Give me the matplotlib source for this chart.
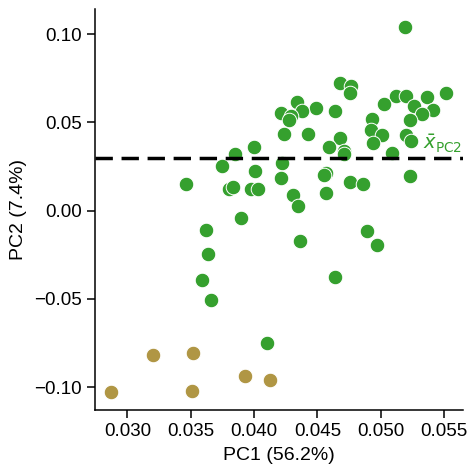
import numpy as np
import matplotlib
matplotlib.use("Agg")
import matplotlib.pyplot as plt
import matplotlib.transforms as mtransforms

plt.rcParams['font.family'] = ['Liberation Sans', 'DejaVu Sans']

# =========================
# DATA
# =========================
pc1_green = [0.05192, 0.04674, 0.04761, 0.04753, 0.05121, 0.05195, 0.05361, 0.05511,
             0.04342, 0.05021, 0.05263, 0.05413, 0.04492, 0.04379, 0.04640, 0.04213,
             0.04292, 0.04277, 0.05327, 0.04932, 0.05226, 0.04926, 0.05011, 0.05195,
             0.05240, 0.04940, 0.04232, 0.04427, 0.04679, 0.04592, 0.04711, 0.04713,
             0.05084, 0.04000, 0.03853, 0.03750, 0.04011, 0.04224, 0.05232, 0.04213,
             0.04566, 0.04555, 0.03463, 0.04753, 0.04861, 0.03805, 0.03832, 0.03979,
             0.04032, 0.04303, 0.04571, 0.04350, 0.03898, 0.03621, 0.04892, 0.04971,
             0.04363, 0.03640, 0.03592, 0.04640, 0.03663, 0.04105]
pc2_green = [0.10385, 0.07214, 0.07061, 0.06648, 0.06478, 0.06478, 0.06455, 0.06648,
             0.06138, 0.06025, 0.05946, 0.05685, 0.05798, 0.05629, 0.05629, 0.05515,
             0.05345, 0.05136, 0.05459, 0.05176, 0.05119, 0.04553, 0.04270, 0.04270,
             0.03930, 0.03817, 0.04326, 0.04326, 0.04100, 0.03607, 0.03398, 0.03211,
             0.03250, 0.03590, 0.03211, 0.02514, 0.02265, 0.02684, 0.01948, 0.01835,
             0.02135, 0.02005, 0.01495, 0.01608, 0.01495, 0.01212, 0.01359, 0.01229,
             0.01229, 0.00889, 0.00985, 0.00249, -0.00430, -0.01110, -0.01166, -0.01959,
             -0.01733, -0.02469, -0.03941, -0.03737, -0.05074, -0.07508]

pc1_gold = [0.03205, 0.03521, 0.03932, 0.04127, 0.02871, 0.03513]
pc2_gold = [-0.08188, -0.08075, -0.09377, -0.09604, -0.10283, -0.10227]

mean_pc2 = 0.0298

green = '#35a02e'
gold = '#b09644'

# =========================
# PLOT
# =========================
fig = plt.figure(figsize=(4.76, 4.76), dpi=100)
ax = fig.add_axes([0.1996, 0.1387, 0.7731, 0.8418])

ax.scatter(pc1_green, pc2_green, s=110, color=green, edgecolor='white', linewidth=0.7, zorder=3)
ax.scatter(pc1_gold, pc2_gold, s=110, color=gold, edgecolor='white', linewidth=0.7, zorder=3)

ax.axhline(mean_pc2, color='black', lw=2.5, dashes=(5, 2.5), zorder=4)
trans = mtransforms.blended_transform_factory(ax.transAxes, ax.transData)
ax.text(0.998, mean_pc2 + 0.0015, r'$\bar{x}_{\mathrm{PC2}}$', color=green,
        fontsize=14, ha='right', va='bottom', transform=trans, zorder=5)

ax.set_xlim(0.02745, 0.05648)
ax.set_ylim(-0.1129, 0.114)
ax.set_xticks([0.030, 0.035, 0.040, 0.045, 0.050, 0.055])
ax.set_yticks([-0.10, -0.05, 0.00, 0.05, 0.10])
ax.xaxis.set_major_formatter(matplotlib.ticker.FormatStrFormatter('%.3f'))
ax.yaxis.set_major_formatter(matplotlib.ticker.FuncFormatter(
    lambda v, p: ('\u2212' if v < -1e-9 else '') + '%.2f' % abs(v)))

ax.set_xlabel('PC1 (56.2%)', fontsize=14, labelpad=5)
ax.set_ylabel('PC2 (7.4%)', fontsize=14, labelpad=5)
ax.tick_params(labelsize=13.5, length=6, width=1.1, direction='out')

for side in ['top', 'right']:
    ax.spines[side].set_visible(False)
for side in ['left', 'bottom']:
    ax.spines[side].set_linewidth(1.1)

fig.savefig('out.png', dpi=100)
